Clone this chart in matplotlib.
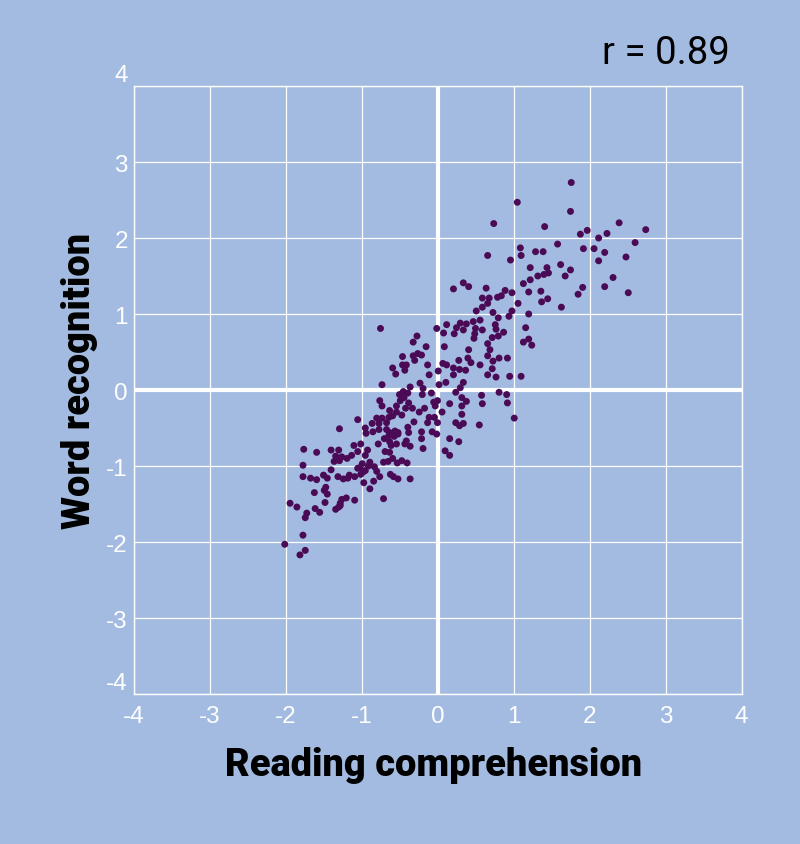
import matplotlib
matplotlib.use("Agg")
import matplotlib.pyplot as plt

# Reading comprehension (x) and word recognition (y) z-scores
reading = [
    -0.73, -0.36, -0.23, -0.19, 0.02, -0.50, -0.45, -0.39, -0.44, -0.20, -0.08, -0.76,
    -0.73, -0.49, -0.38, -0.54, -0.63, -0.42, -0.33, -0.24, -0.17, -0.05, 0.00, -0.03,
    -1.05, -0.80, -0.73, -0.64, -0.54, -0.59, -0.47, -0.77, -0.86, -0.67, -0.31, -0.13,
    -0.11, -0.04, 0.00, -1.29, -0.95, -0.94, -0.85, -0.77, -0.67, -0.63, -0.56, -0.52,
    -0.39, -0.38, -0.21, -0.07, -0.01, -0.70, -0.64, -0.57, -0.52, -0.78, -0.63, -0.54,
    -0.43, -0.41, -0.36, -0.21, -0.19, -0.69, -0.63, -0.61, -1.10, -1.01, -1.05, -0.92,
    -1.40, -1.30, -1.59, -1.76, -1.13, -1.19, -1.26, -1.29, -1.36, -1.34, -0.95, -0.89,
    -0.71, -0.65, -0.59, -0.53, -0.47, -0.40, -1.77, -1.02, -0.99, -0.91, -1.05, -0.95,
    -0.98, -0.83, -0.80, -0.76, -1.40, -1.77, -1.67, -1.59, -1.50, -1.45, -1.31, -1.24,
    -1.18, -1.16, -1.09, -1.01, -0.84, -0.62, -0.58, -0.52, -0.36, -0.97, -0.89, -1.47,
    -1.45, -1.49, -1.62, -0.71, -1.09, -1.20, -1.26, -1.28, -1.28, -1.30, -1.34, -1.48,
    -1.94, -1.85, -1.61, -1.55, -1.72, -1.74, -1.77, -2.01, -1.74, -1.81,
    -0.75, -0.01, -0.27, -0.32, -0.15, -0.46, -0.32, -0.26, -0.21, -0.30, -0.13, -0.59,
    -0.46, -0.41, -0.43, -0.55, -0.11, 0.01,
    0.66, 0.96, 1.10, 1.29, 1.39, 1.22, 0.21, 0.34, 0.41, 0.64, 0.59, 0.68,
    0.79, 0.84, 0.89, 0.98, 1.13, 1.22, 1.32, 1.40, 1.46, 1.44, 1.20, 1.36,
    1.45, 1.37, 1.06, 0.66, 0.59, 0.51, 0.73, 0.98, 0.94, 0.80, 1.20, 0.12,
    0.25, 0.30, 0.38, 0.47, 0.56, 0.08, 0.22, 0.34, 0.50, 0.49, 0.59, 0.48,
    0.76, 0.77, 0.80, 0.87, 0.72, 1.16, 1.20, 1.13, 1.24, 0.09, 0.66, 0.69,
    0.41, 0.66, 0.73, 0.81, 0.92, 0.28, 0.40, 0.44, 0.07, 0.12, 0.21, 0.29,
    0.37, 0.56, 0.72, 0.21, 0.66, 0.77, 0.95, 1.10,
    1.76, 1.75, 2.39, 2.74, 1.97, 1.88, 2.23, 2.12, 1.58, 2.60, 1.92, 2.06,
    2.20, 2.48, 2.12, 1.62, 1.75, 1.68, 2.31, 1.91, 2.20, 1.85, 2.51, 1.63,
    1.05, 0.74, 1.41, 1.09,
    0.11, 0.34, 0.30, 0.24, 0.58, 0.81, 0.91, 0.59, 0.92, 0.16, 0.32, 0.38,
    0.32, 0.06, 0.32, 0.24, 0.29, 0.34, 0.55, 1.01, 0.16, 0.28, 0.10, 0.16,
]
word = [
    0.07, 0.04, 0.09, 0.02, 0.07, -0.06, -0.02, -0.04, -0.10, -0.06, -0.04, -0.14,
    -0.21, -0.14, -0.17, -0.21, -0.27, -0.24, -0.24, -0.29, -0.24, -0.16, -0.14, -0.21,
    -0.39, -0.37, -0.37, -0.36, -0.29, -0.34, -0.33, -0.44, -0.44, -0.43, -0.42, -0.43,
    -0.36, -0.36, -0.43, -0.51, -0.50, -0.57, -0.55, -0.52, -0.52, -0.56, -0.54, -0.56,
    -0.49, -0.56, -0.55, -0.55, -0.58, -0.64, -0.60, -0.61, -0.58, -0.71, -0.68, -0.71,
    -0.71, -0.67, -0.74, -0.64, -0.77, -0.81, -0.82, -0.73, -0.73, -0.71, -0.81, -0.79,
    -0.79, -0.79, -0.82, -0.78, -0.86, -0.90, -0.88, -0.93, -0.94, -0.87, -0.86, -0.95,
    -0.95, -0.94, -0.90, -0.96, -0.93, -0.96, -0.99, -1.02, -0.97, -1.00, -1.03, -1.06,
    -1.08, -1.01, -1.07, -1.14, -1.05, -1.14, -1.16, -1.18, -1.12, -1.16, -1.14, -1.17,
    -1.16, -1.12, -1.14, -1.11, -1.20, -1.11, -1.14, -1.17, -1.17, -1.22, -1.30, -1.28,
    -1.37, -1.32, -1.35, -1.43, -1.45, -1.42, -1.44, -1.49, -1.52, -1.54, -1.57, -1.48,
    -1.49, -1.54, -1.56, -1.61, -1.62, -1.68, -1.91, -2.03, -2.11, -2.17,
    0.81, 0.81, 0.71, 0.63, 0.57, 0.44, 0.45, 0.48, 0.46, 0.39, 0.33, 0.29,
    0.33, 0.33, 0.26, 0.21, 0.20, 0.25,
    1.77, 1.71, 1.77, 1.82, 1.82, 1.61, 1.33, 1.41, 1.36, 1.34, 1.21, 1.21,
    1.22, 1.24, 1.31, 1.28, 1.40, 1.45, 1.50, 1.52, 1.54, 1.61, 1.29, 1.30,
    1.20, 1.16, 1.14, 1.14, 1.09, 1.04, 1.02, 1.04, 0.97, 0.95, 1.00, 0.86,
    0.82, 0.88, 0.87, 0.90, 0.92, 0.75, 0.74, 0.79, 0.81, 0.74, 0.79, 0.68,
    0.86, 0.80, 0.71, 0.76, 0.69, 0.82, 0.67, 0.63, 0.59, 0.57, 0.61, 0.53,
    0.53, 0.45, 0.38, 0.42, 0.42, 0.39, 0.42, 0.36, 0.35, 0.33, 0.29, 0.27,
    0.26, 0.33, 0.28, 0.20, 0.20, 0.17, 0.18, 0.18,
    2.73, 2.35, 2.20, 2.11, 2.10, 2.05, 2.06, 2.00, 1.92, 1.94, 1.86, 1.86,
    1.81, 1.75, 1.70, 1.65, 1.58, 1.50, 1.48, 1.35, 1.36, 1.26, 1.28, 1.09,
    2.47, 2.19, 2.15, 1.87,
    0.10, 0.10, 0.03, -0.03, -0.07, -0.03, -0.06, -0.18, -0.17, -0.18, -0.10, -0.15,
    -0.21, -0.29, -0.32, -0.43, -0.47, -0.44, -0.46, -0.37, -0.64, -0.68, -0.80, -0.86,
]
ticks = [-4, -3, -2, -1, 0, 1, 2, 3, 4]
tick_labels = ["-4", "-3", "-2", "-1", "0", "1", "2", "3", "4"]
r_text = "r = 0.89"
x_label = "Reading comprehension"
y_label = "Word recognition"

BG = "#a3bbe1"
DOT = "#4a0a55"

plt.rcParams['font.family'] = ['Liberation Sans', 'DejaVu Sans']

fig = plt.figure(figsize=(8, 8.45), dpi=100, facecolor=BG)
ax = fig.add_axes([133.5 / 800, 150 / 845, 608 / 800, 608 / 845])
ax.set_facecolor(BG)

ax.set_xlim(-4, 4)
ax.set_ylim(-4, 4)
ax.set_xticks(ticks)
ax.set_yticks(ticks)
ax.set_xticklabels(tick_labels)
ax.set_yticklabels(tick_labels)
ax.tick_params(length=0, colors="white", labelsize=17.5)
ax.tick_params(axis="x", pad=8)
ax.tick_params(axis="y", pad=4)
ylabs = ax.get_yticklabels()
ylabs[0].set_verticalalignment("bottom")
ylabs[-1].set_verticalalignment("bottom")
ax.grid(True, color="white", linewidth=0.9)
ax.set_axisbelow(True)
for s in ax.spines.values():
    s.set_color("white")
    s.set_linewidth(1.0)
ax.axhline(0, color="white", linewidth=3, zorder=1)
ax.axvline(0, color="white", linewidth=3, zorder=1)

ax.scatter(reading, word, s=25, color=DOT, edgecolors="none", zorder=3)

fig.text(730 / 800, 1 - 64 / 845, r_text, ha="right", va="baseline",
         fontsize=27.5, color="black", family=["Roboto", "DejaVu Sans"], fontweight="normal")
heavy = dict(fontsize=27.4, fontweight="black", color="black",
             family=["Roboto", "Liberation Sans", "DejaVu Sans"])
fig.text(433.5 / 800, 1 - 776 / 845, x_label, ha="center", va="baseline", **heavy)
fig.text(80 / 800, 1 - 381 / 845, y_label, ha="center", va="center", rotation=90, **heavy)

fig.savefig("out.png", dpi=100, facecolor=BG)
